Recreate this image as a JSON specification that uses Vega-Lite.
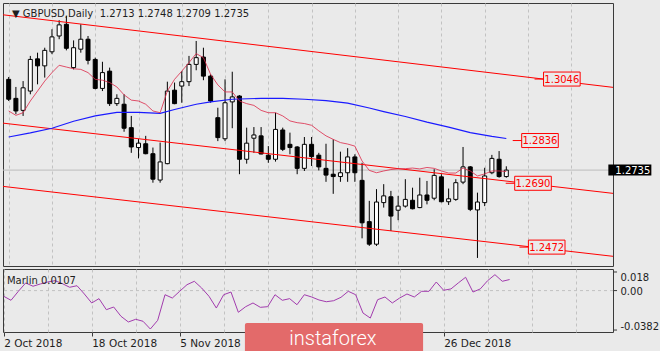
{
"$schema": "https://vega.github.io/schema/vega-lite/v6.json",
"background": "#eaeaea",
"padding": {"left": 2, "top": 2, "right": 0, "bottom": 0},
"spacing": 1,
"config": {
  "view": {"stroke": "#3a3a3a", "strokeWidth": 1},
  "axis": {"labelFont": "DejaVu Sans", "labelFontSize": 10, "labelColor": "#1e1e1e", "tickColor": "#3a3a3a", "gridColor": "#c2c2c2", "gridDash": [3, 3], "gridWidth": 1, "domain": false, "title": null, "minExtent": 0}
},
"datasets": {
  "candles": [
    {"i":0,"d":"2018-10-02","o":1.3045,"h":1.3053,"l":1.2971,"c":1.2977},
    {"i":1,"d":"2018-10-03","o":1.2980,"h":1.3019,"l":1.2926,"c":1.2937},
    {"i":2,"d":"2018-10-04","o":1.2939,"h":1.3039,"l":1.2920,"c":1.3016},
    {"i":3,"d":"2018-10-05","o":1.3005,"h":1.3125,"l":1.2994,"c":1.3113},
    {"i":4,"d":"2018-10-08","o":1.3115,"h":1.3136,"l":1.3028,"c":1.3091},
    {"i":5,"d":"2018-10-09","o":1.3091,"h":1.3153,"l":1.3051,"c":1.3144},
    {"i":6,"d":"2018-10-10","o":1.3139,"h":1.3216,"l":1.3131,"c":1.3190},
    {"i":7,"d":"2018-10-11","o":1.3193,"h":1.3247,"l":1.3182,"c":1.3231},
    {"i":8,"d":"2018-10-12","o":1.3233,"h":1.3261,"l":1.3144,"c":1.3151},
    {"i":9,"d":"2018-10-15","o":1.3085,"h":1.3178,"l":1.3079,"c":1.3153},
    {"i":10,"d":"2018-10-16","o":1.3148,"h":1.3233,"l":1.3136,"c":1.3182},
    {"i":11,"d":"2018-10-17","o":1.3182,"h":1.3193,"l":1.3096,"c":1.3110},
    {"i":12,"d":"2018-10-18","o":1.3113,"h":1.3119,"l":1.3011,"c":1.3014},
    {"i":13,"d":"2018-10-19","o":1.3014,"h":1.3105,"l":1.3005,"c":1.3068},
    {"i":14,"d":"2018-10-22","o":1.3073,"h":1.3085,"l":1.2954,"c":1.2962},
    {"i":15,"d":"2018-10-23","o":1.2962,"h":1.2994,"l":1.2954,"c":1.2980},
    {"i":16,"d":"2018-10-24","o":1.2960,"h":1.2994,"l":1.2866,"c":1.2878},
    {"i":17,"d":"2018-10-25","o":1.2880,"h":1.2920,"l":1.2794,"c":1.2814},
    {"i":18,"d":"2018-10-26","o":1.2812,"h":1.2841,"l":1.2775,"c":1.2827},
    {"i":19,"d":"2018-10-29","o":1.2825,"h":1.2852,"l":1.2789,"c":1.2791},
    {"i":20,"d":"2018-10-30","o":1.2791,"h":1.2812,"l":1.2692,"c":1.2704},
    {"i":21,"d":"2018-10-31","o":1.2701,"h":1.2829,"l":1.2692,"c":1.2763},
    {"i":22,"d":"2018-11-01","o":1.2757,"h":1.3037,"l":1.2755,"c":1.3005},
    {"i":23,"d":"2018-11-02","o":1.3008,"h":1.3034,"l":1.2960,"c":1.2962},
    {"i":24,"d":"2018-11-05","o":1.3022,"h":1.3073,"l":1.2965,"c":1.3037},
    {"i":25,"d":"2018-11-06","o":1.3037,"h":1.3125,"l":1.3022,"c":1.3096},
    {"i":26,"d":"2018-11-07","o":1.3096,"h":1.3176,"l":1.3076,"c":1.3119},
    {"i":27,"d":"2018-11-08","o":1.3121,"h":1.3153,"l":1.3042,"c":1.3056},
    {"i":28,"d":"2018-11-09","o":1.3056,"h":1.3062,"l":1.2965,"c":1.2971},
    {"i":29,"d":"2018-11-12","o":1.2914,"h":1.2948,"l":1.2834,"c":1.2846},
    {"i":30,"d":"2018-11-13","o":1.2842,"h":1.3045,"l":1.2834,"c":1.2965},
    {"i":31,"d":"2018-11-14","o":1.2968,"h":1.3071,"l":1.2878,"c":1.2985},
    {"i":32,"d":"2018-11-15","o":1.2988,"h":1.2991,"l":1.2721,"c":1.2772},
    {"i":33,"d":"2018-11-16","o":1.2772,"h":1.2880,"l":1.2757,"c":1.2827},
    {"i":34,"d":"2018-11-19","o":1.2844,"h":1.2882,"l":1.2794,"c":1.2855},
    {"i":35,"d":"2018-11-20","o":1.2852,"h":1.2882,"l":1.2789,"c":1.2790},
    {"i":36,"d":"2018-11-21","o":1.2786,"h":1.2817,"l":1.2760,"c":1.2772},
    {"i":37,"d":"2018-11-22","o":1.2772,"h":1.2931,"l":1.2764,"c":1.2874},
    {"i":38,"d":"2018-11-23","o":1.2872,"h":1.2880,"l":1.2800,"c":1.2806},
    {"i":39,"d":"2018-11-26","o":1.2823,"h":1.2863,"l":1.2789,"c":1.2812},
    {"i":40,"d":"2018-11-27","o":1.2814,"h":1.2817,"l":1.2721,"c":1.2741},
    {"i":41,"d":"2018-11-28","o":1.2741,"h":1.2848,"l":1.2732,"c":1.2823},
    {"i":42,"d":"2018-11-29","o":1.2823,"h":1.2848,"l":1.2749,"c":1.2781},
    {"i":43,"d":"2018-11-30","o":1.2786,"h":1.2794,"l":1.2734,"c":1.2746},
    {"i":44,"d":"2018-12-03","o":1.2741,"h":1.2825,"l":1.2695,"c":1.2718},
    {"i":45,"d":"2018-12-04","o":1.2721,"h":1.2840,"l":1.2654,"c":1.2713},
    {"i":46,"d":"2018-12-05","o":1.2713,"h":1.2798,"l":1.2695,"c":1.2726},
    {"i":47,"d":"2018-12-06","o":1.2726,"h":1.2810,"l":1.2695,"c":1.2780},
    {"i":48,"d":"2018-12-07","o":1.2780,"h":1.2789,"l":1.2695,"c":1.2726},
    {"i":49,"d":"2018-12-10","o":1.2700,"h":1.2760,"l":1.2502,"c":1.2555},
    {"i":50,"d":"2018-12-11","o":1.2559,"h":1.2630,"l":1.2476,"c":1.2482},
    {"i":51,"d":"2018-12-12","o":1.2482,"h":1.2670,"l":1.2476,"c":1.2626},
    {"i":52,"d":"2018-12-13","o":1.2624,"h":1.2687,"l":1.2607,"c":1.2647},
    {"i":53,"d":"2018-12-14","o":1.2644,"h":1.2664,"l":1.2527,"c":1.2578},
    {"i":54,"d":"2018-12-17","o":1.2598,"h":1.2647,"l":1.2564,"c":1.2612},
    {"i":55,"d":"2018-12-18","o":1.2612,"h":1.2704,"l":1.2607,"c":1.2635},
    {"i":56,"d":"2018-12-19","o":1.2632,"h":1.2675,"l":1.2601,"c":1.2603},
    {"i":57,"d":"2018-12-20","o":1.2607,"h":1.2709,"l":1.2605,"c":1.2650},
    {"i":58,"d":"2018-12-21","o":1.2650,"h":1.2698,"l":1.2618,"c":1.2632},
    {"i":59,"d":"2018-12-24","o":1.2639,"h":1.2738,"l":1.2632,"c":1.2717},
    {"i":60,"d":"2018-12-26","o":1.2712,"h":1.2721,"l":1.2625,"c":1.2627},
    {"i":61,"d":"2018-12-27","o":1.2627,"h":1.2672,"l":1.2616,"c":1.2637},
    {"i":62,"d":"2018-12-28","o":1.2635,"h":1.2704,"l":1.2630,"c":1.2692},
    {"i":63,"d":"2018-12-31","o":1.2694,"h":1.2814,"l":1.2687,"c":1.2746},
    {"i":64,"d":"2019-01-02","o":1.2746,"h":1.2749,"l":1.2595,"c":1.2601},
    {"i":65,"d":"2019-01-03","o":1.2599,"h":1.2658,"l":1.2435,"c":1.2626},
    {"i":66,"d":"2019-01-04","o":1.2624,"h":1.2743,"l":1.2612,"c":1.2715},
    {"i":67,"d":"2019-01-07","o":1.2726,"h":1.2787,"l":1.2721,"c":1.2775},
    {"i":68,"d":"2019-01-08","o":1.2772,"h":1.2800,"l":1.2709,"c":1.2713},
    {"i":69,"d":"2019-01-09","o":1.2713,"h":1.2748,"l":1.2709,"c":1.2735}
  ],
  "maslow": [
    {"i":0,"v":1.2848},{"i":3,"v":1.2862},{"i":6,"v":1.2878},{"i":9,"v":1.2902},{"i":12,"v":1.2920},
    {"i":15,"v":1.2932},{"i":18,"v":1.2932},{"i":21,"v":1.2929},{"i":23,"v":1.2942},{"i":26,"v":1.2960},
    {"i":28,"v":1.2968},{"i":31,"v":1.2977},{"i":35,"v":1.2980},{"i":38,"v":1.2980},{"i":41,"v":1.2977},
    {"i":44,"v":1.2972},{"i":47,"v":1.2964},{"i":50,"v":1.2947},{"i":52,"v":1.2935},{"i":55,"v":1.2918},
    {"i":58,"v":1.2899},{"i":61,"v":1.2882},{"i":64,"v":1.2863},{"i":67,"v":1.2850},{"i":69,"v":1.2843}
  ],
  "mafast": [
    {"i":0,"v":1.2937},{"i":1,"v":1.2922},{"i":2,"v":1.2931},{"i":3,"v":1.2971},{"i":4,"v":1.3005},
    {"i":5,"v":1.3039},{"i":6,"v":1.3068},{"i":7,"v":1.3093},{"i":8,"v":1.3087},{"i":9,"v":1.3081},
    {"i":10,"v":1.3079},{"i":11,"v":1.3068},{"i":12,"v":1.3045},{"i":13,"v":1.3042},{"i":14,"v":1.3034},
    {"i":15,"v":1.3019},{"i":16,"v":1.2992},{"i":17,"v":1.2974},{"i":18,"v":1.2971},{"i":19,"v":1.2960},
    {"i":20,"v":1.2937},{"i":21,"v":1.2931},{"i":22,"v":1.3005},{"i":23,"v":1.3045},{"i":24,"v":1.3073},
    {"i":25,"v":1.3102},{"i":26,"v":1.3133},{"i":27,"v":1.3119},{"i":28,"v":1.3062},{"i":29,"v":1.3026},
    {"i":30,"v":1.3002},{"i":31,"v":1.3002},{"i":32,"v":1.2971},{"i":33,"v":1.2962},{"i":34,"v":1.2956},
    {"i":35,"v":1.2939},{"i":36,"v":1.2931},{"i":37,"v":1.2931},{"i":38,"v":1.2920},{"i":39,"v":1.2903},
    {"i":40,"v":1.2897},{"i":41,"v":1.2894},{"i":42,"v":1.2888},{"i":43,"v":1.2869},{"i":44,"v":1.2852},
    {"i":45,"v":1.2840},{"i":46,"v":1.2829},{"i":47,"v":1.2824},{"i":48,"v":1.2817},{"i":49,"v":1.2766},
    {"i":50,"v":1.2734},{"i":51,"v":1.2726},{"i":52,"v":1.2732},{"i":53,"v":1.2737},{"i":54,"v":1.2739},
    {"i":55,"v":1.2740},{"i":56,"v":1.2742},{"i":57,"v":1.2739},{"i":58,"v":1.2744},{"i":59,"v":1.2741},
    {"i":60,"v":1.2732},{"i":61,"v":1.2725},{"i":62,"v":1.2725},{"i":63,"v":1.2742},{"i":64,"v":1.2732},
    {"i":65,"v":1.2715},{"i":66,"v":1.2722},{"i":67,"v":1.2732},{"i":68,"v":1.2732},{"i":69,"v":1.2730}
  ],
  "channels": [
    {"line":"upper","i":-1,"p":1.3266},{"line":"upper","i":84,"p":1.3017},
    {"line":"middle","i":-1,"p":1.2896},{"line":"middle","i":84,"p":1.2655},
    {"line":"lower","i":-1,"p":1.2680},{"line":"lower","i":84,"p":1.2440}
  ],
  "labels": [
    {"i":76.7,"p":1.3046,"t":"1.3046"},
    {"i":73.67,"p":1.2836,"t":"1.2836"},
    {"i":72.7,"p":1.2690,"t":"1.2690"},
    {"i":74.6,"p":1.2472,"t":"1.2472"}
  ],
  "marlin": [
    {"i":0,"v":-0.0055},{"i":1,"v":-0.0094},{"i":2,"v":-0.0007},{"i":3,"v":0.0074},{"i":4,"v":0.0042},
    {"i":5,"v":0.0064},{"i":6,"v":0.0083},{"i":7,"v":0.0096},{"i":8,"v":0.0067},{"i":9,"v":0.0032},
    {"i":10,"v":0.0047},{"i":11,"v":-0.0033},{"i":12,"v":-0.0120},{"i":13,"v":-0.0078},{"i":14,"v":-0.0185},
    {"i":15,"v":-0.0159},{"i":16,"v":-0.0249},{"i":17,"v":-0.0304},{"i":18,"v":-0.0278},{"i":19,"v":-0.0297},
    {"i":20,"v":-0.0372},{"i":21,"v":-0.0288},{"i":22,"v":-0.0040},{"i":23,"v":-0.0072},{"i":24,"v":-0.0007},
    {"i":25,"v":0.0057},{"i":26,"v":0.0090},{"i":27,"v":0.0025},{"i":28,"v":-0.0055},{"i":29,"v":-0.0169},
    {"i":30,"v":-0.0040},{"i":31,"v":-0.0014},{"i":32,"v":-0.0210},{"i":33,"v":-0.0156},{"i":34,"v":-0.0120},
    {"i":35,"v":-0.0162},{"i":36,"v":-0.0156},{"i":37,"v":-0.0040},{"i":38,"v":-0.0094},{"i":39,"v":-0.0078},
    {"i":40,"v":-0.0137},{"i":41,"v":-0.0040},{"i":42,"v":-0.0062},{"i":43,"v":-0.0091},{"i":44,"v":-0.0108},
    {"i":45,"v":-0.0098},{"i":46,"v":-0.0065},{"i":47,"v":-0.0007},{"i":48,"v":-0.0040},{"i":49,"v":-0.0217},
    {"i":50,"v":-0.0266},{"i":51,"v":-0.0088},{"i":52,"v":-0.0062},{"i":53,"v":-0.0120},{"i":54,"v":-0.0072},
    {"i":55,"v":-0.0033},{"i":56,"v":-0.0062},{"i":57,"v":-0.0007},{"i":58,"v":-0.0007},{"i":59,"v":0.0083},
    {"i":60,"v":0.0003},{"i":61,"v":0.0016},{"i":62,"v":0.0074},{"i":63,"v":0.0129},{"i":64,"v":-0.0014},
    {"i":65,"v":0.0016},{"i":66,"v":0.0096},{"i":67,"v":0.0154},{"i":68,"v":0.0090},{"i":69,"v":0.0107}
  ]
},
"vconcat": [
  {
    "width": 610,
    "height": 263,
    "layer": [
      {
        "data": {"values": [{"p": 1.2735}]},
        "mark": {"type": "rule", "color": "#bdbdbd", "strokeWidth": 1},
        "encoding": {
          "y": {"field": "p", "type": "quantitative", "scale": {"domain": [1.24075, 1.33057], "nice": false, "zero": false},
                "axis": {"orient": "right", "values": [1.3235, 1.3085, 1.293, 1.278, 1.2625, 1.247], "format": ".4f", "tickSize": 4, "labelPadding": 3, "grid": true}}
        }
      },
      {
        "data": {"name": "candles"},
        "mark": {"type": "rule", "color": "#000000", "strokeWidth": 1},
        "encoding": {
          "x": {"field": "i", "type": "quantitative", "scale": {"domain": [-0.095, 83.1], "nice": false, "zero": false},
                "axis": {"orient": "bottom", "values": [0,6,12,18,24,30,36,42,48,54,60,66,72,78], "labels": false, "ticks": false, "grid": true, "minExtent": 0, "maxExtent": 0, "offset": 0}},
          "y": {"field": "l", "type": "quantitative", "scale": {"domain": [1.24075, 1.33057], "nice": false, "zero": false}, "axis": null},
          "y2": {"field": "h"}
        }
      },
      {
        "data": {"name": "candles"},
        "mark": {"type": "bar", "size": 4, "stroke": "#000000", "strokeWidth": 1},
        "encoding": {
          "x": {"field": "i", "type": "quantitative", "scale": {"domain": [-0.095, 83.1], "nice": false, "zero": false}},
          "y": {"field": "o", "type": "quantitative", "scale": {"domain": [1.24075, 1.33057], "nice": false, "zero": false}, "axis": null},
          "y2": {"field": "c"},
          "fill": {"condition": {"test": "datum.c >= datum.o", "value": "#ffffff"}, "value": "#000000"}
        }
      },
      {
        "data": {"name": "channels"},
        "mark": {"type": "line", "color": "#ff0000", "strokeWidth": 1, "clip": true},
        "encoding": {
          "x": {"field": "i", "type": "quantitative", "scale": {"domain": [-0.095, 83.1], "nice": false, "zero": false}},
          "y": {"field": "p", "type": "quantitative", "scale": {"domain": [1.24075, 1.33057], "nice": false, "zero": false}, "axis": null},
          "detail": {"field": "line"}
        }
      },
      {
        "data": {"name": "maslow"},
        "mark": {"type": "line", "color": "#1a1aff", "strokeWidth": 1.2, "clip": true},
        "encoding": {
          "x": {"field": "i", "type": "quantitative", "scale": {"domain": [-0.095, 83.1], "nice": false, "zero": false}},
          "y": {"field": "v", "type": "quantitative", "scale": {"domain": [1.24075, 1.33057], "nice": false, "zero": false}, "axis": null}
        }
      },
      {
        "data": {"name": "mafast"},
        "mark": {"type": "line", "color": "#dc2848", "strokeWidth": 1, "opacity": 0.8, "clip": true},
        "encoding": {
          "x": {"field": "i", "type": "quantitative", "scale": {"domain": [-0.095, 83.1], "nice": false, "zero": false}},
          "y": {"field": "v", "type": "quantitative", "scale": {"domain": [1.24075, 1.33057], "nice": false, "zero": false}, "axis": null}
        }
      },
      {
        "data": {"name": "labels"},
        "mark": {"type": "point", "shape": "M-1,-0.383H1V0.383H-1Z M-1.49,0H-1", "size": 1340, "filled": true, "fill": "#eaeaea", "stroke": "#ff0000", "strokeWidth": 1, "opacity": 1},
        "encoding": {
          "x": {"field": "i", "type": "quantitative", "scale": {"domain": [-0.095, 83.1], "nice": false, "zero": false}},
          "y": {"field": "p", "type": "quantitative", "scale": {"domain": [1.24075, 1.33057], "nice": false, "zero": false}, "axis": null}
        }
      },
      {
        "data": {"name": "labels"},
        "mark": {"type": "text", "font": "DejaVu Sans", "fontSize": 10, "color": "#ff0000", "baseline": "middle", "align": "center", "dy": 0.5},
        "encoding": {
          "x": {"field": "i", "type": "quantitative", "scale": {"domain": [-0.095, 83.1], "nice": false, "zero": false}},
          "y": {"field": "p", "type": "quantitative", "scale": {"domain": [1.24075, 1.33057], "nice": false, "zero": false}, "axis": null},
          "text": {"field": "t"}
        }
      },
      {
        "data": {"values": [{"i": 86.13, "p": 1.2735, "t": "1.2735"}]},
        "mark": {"type": "point", "shape": "M-1,-0.256H1V0.256H-1Z", "size": 1849, "filled": true, "fill": "#000000", "opacity": 1},
        "encoding": {
          "x": {"field": "i", "type": "quantitative", "scale": {"domain": [-0.095, 83.1], "nice": false, "zero": false}},
          "y": {"field": "p", "type": "quantitative", "scale": {"domain": [1.24075, 1.33057], "nice": false, "zero": false}, "axis": null}
        }
      },
      {
        "data": {"values": [{"i": 86.13, "p": 1.2735, "t": "1.2735"}]},
        "mark": {"type": "text", "font": "DejaVu Sans", "fontSize": 10, "color": "#ffffff", "baseline": "middle", "align": "center", "dx": 3, "dy": 0.5},
        "encoding": {
          "x": {"field": "i", "type": "quantitative", "scale": {"domain": [-0.095, 83.1], "nice": false, "zero": false}},
          "y": {"field": "p", "type": "quantitative", "scale": {"domain": [1.24075, 1.33057], "nice": false, "zero": false}, "axis": null},
          "text": {"field": "t"}
        }
      },
      {
        "data": {"values": [{"i": 0.45, "p": 1.32579, "t": "▼ GBPUSD,Daily\u00a0\u00a01.2713 1.2748 1.2709 1.2735"}]},
        "mark": {"type": "text", "font": "DejaVu Sans", "fontSize": 10, "color": "#1e1e1e", "baseline": "alphabetic", "align": "left"},
        "encoding": {
          "x": {"field": "i", "type": "quantitative", "scale": {"domain": [-0.095, 83.1], "nice": false, "zero": false}},
          "y": {"field": "p", "type": "quantitative", "scale": {"domain": [1.24075, 1.33057], "nice": false, "zero": false}, "axis": null},
          "text": {"field": "t"}
        }
      }
    ]
  },
  {
    "width": 610,
    "height": 63,
    "layer": [
      {
        "data": {"values": [{"v": 0}]},
        "mark": {"type": "rule", "color": "#c2c2c2", "strokeWidth": 1, "strokeDash": [3, 3]},
        "encoding": {
          "y": {"field": "v", "type": "quantitative", "scale": {"domain": [-0.0401, 0.0209], "nice": false, "zero": false}, "axis": null}
        }
      },
      {
        "data": {"name": "marlin"},
        "mark": {"type": "line", "color": "#a23cae", "strokeWidth": 1, "clip": true},
        "encoding": {
          "x": {"field": "i", "type": "quantitative", "scale": {"domain": [-0.095, 83.1], "nice": false, "zero": false},
                "axis": {"orient": "bottom", "values": [0,6,12,18,24,30,36,42,48,54,60,66,72,78],
                         "labelExpr": "datum.value == 0 ? '2 Oct 2018' : datum.value == 12 ? '18 Oct 2018' : datum.value == 24 ? '5 Nov 2018' : datum.value == 60 ? '26 Dec 2018' : ''",
                         "labelAlign": "left", "labelFlush": false, "labelOverlap": false, "labelFontSize": 10.5, "labelPadding": 2, "tickSize": 4,
                         "tickOpacity": {"condition": {"test": "indexof([0,12,24,60], datum.value) >= 0", "value": 1}, "value": 0},
                         "grid": true}},
          "y": {"field": "v", "type": "quantitative", "scale": {"domain": [-0.0401, 0.0209], "nice": false, "zero": false}, "axis": null}
        }
      },
      {
        "data": {"values": [{"v": 0.018}, {"v": 0}, {"v": -0.0382}]},
        "mark": {"type": "rule", "color": "#3a3a3a", "strokeWidth": 1, "clip": false},
        "encoding": {
          "x": {"datum": 83.1, "type": "quantitative", "scale": {"domain": [-0.095, 83.1], "nice": false, "zero": false}},
          "x2": {"datum": 83.65},
          "y": {"field": "v", "type": "quantitative", "scale": {"domain": [-0.0401, 0.0209], "nice": false, "zero": false}, "axis": null}
        }
      },
      {
        "data": {"values": [{"v": 0.018, "t": "0.018"}]},
        "mark": {"type": "text", "font": "DejaVu Sans", "fontSize": 10, "color": "#1e1e1e", "align": "left", "baseline": "top", "dx": 7.5, "dy": 1, "clip": false},
        "encoding": {
          "x": {"datum": 83.1, "type": "quantitative", "scale": {"domain": [-0.095, 83.1], "nice": false, "zero": false}},
          "y": {"field": "v", "type": "quantitative", "scale": {"domain": [-0.0401, 0.0209], "nice": false, "zero": false}, "axis": null},
          "text": {"field": "t"}
        }
      },
      {
        "data": {"values": [{"v": 0, "t": "0.00"}]},
        "mark": {"type": "text", "font": "DejaVu Sans", "fontSize": 10, "color": "#1e1e1e", "align": "left", "baseline": "middle", "dx": 7.5, "dy": 1, "clip": false},
        "encoding": {
          "x": {"datum": 83.1, "type": "quantitative", "scale": {"domain": [-0.095, 83.1], "nice": false, "zero": false}},
          "y": {"field": "v", "type": "quantitative", "scale": {"domain": [-0.0401, 0.0209], "nice": false, "zero": false}, "axis": null},
          "text": {"field": "t"}
        }
      },
      {
        "data": {"values": [{"v": -0.0382, "t": "-0.0382"}]},
        "mark": {"type": "text", "font": "DejaVu Sans", "fontSize": 10, "color": "#1e1e1e", "align": "left", "baseline": "alphabetic", "dx": 7.5, "dy": 0, "clip": false},
        "encoding": {
          "x": {"datum": 83.1, "type": "quantitative", "scale": {"domain": [-0.095, 83.1], "nice": false, "zero": false}},
          "y": {"field": "v", "type": "quantitative", "scale": {"domain": [-0.0401, 0.0209], "nice": false, "zero": false}, "axis": null},
          "text": {"field": "t"}
        }
      },
      {
        "data": {"values": [{"i": 0.45, "v": 0.00638, "t": "Marlin 0.0107"}]},
        "mark": {"type": "text", "font": "DejaVu Sans", "fontSize": 10, "color": "#1e1e1e", "baseline": "alphabetic", "align": "left"},
        "encoding": {
          "x": {"field": "i", "type": "quantitative", "scale": {"domain": [-0.095, 83.1], "nice": false, "zero": false}},
          "y": {"field": "v", "type": "quantitative", "scale": {"domain": [-0.0401, 0.0209], "nice": false, "zero": false}, "axis": null},
          "text": {"field": "t"}
        }
      },
      {
        "data": {"values": [{"i1": 32.9, "i2": 57.2, "v1": -0.0314, "v2": -0.0615}]},
        "mark": {"type": "rect", "fill": "#e36a6a", "cornerRadius": 2},
        "encoding": {
          "x": {"field": "i1", "type": "quantitative", "scale": {"domain": [-0.095, 83.1], "nice": false, "zero": false}},
          "x2": {"field": "i2"},
          "y": {"field": "v1", "type": "quantitative", "scale": {"domain": [-0.0401, 0.0209], "nice": false, "zero": false}, "axis": null},
          "y2": {"field": "v2"}
        }
      },
      {
        "data": {"values": [{"i": 44.9, "v": -0.0525, "t": "instaforex"}]},
        "mark": {"type": "text", "font": "Roboto", "fontSize": 20, "fontWeight": 300, "color": "#ffffff", "align": "center", "baseline": "alphabetic"},
        "encoding": {
          "x": {"field": "i", "type": "quantitative", "scale": {"domain": [-0.095, 83.1], "nice": false, "zero": false}},
          "y": {"field": "v", "type": "quantitative", "scale": {"domain": [-0.0401, 0.0209], "nice": false, "zero": false}, "axis": null},
          "text": {"field": "t"}
        }
      }
    ]
  }
]
}
